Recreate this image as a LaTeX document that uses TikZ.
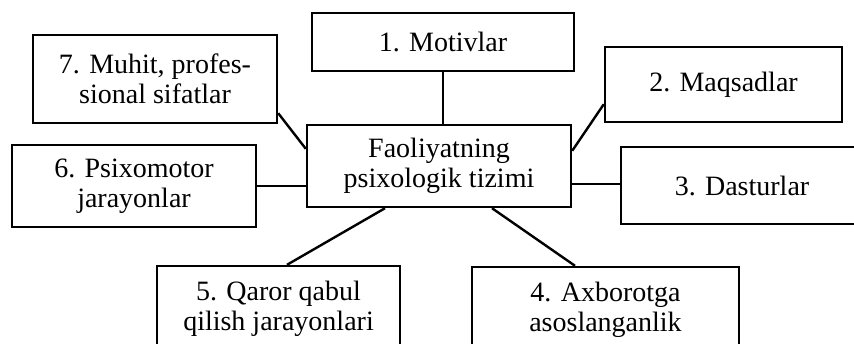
\documentclass[tikz,border=0pt]{standalone}
\usepackage{fontspec}
\setmainfont{Liberation Serif}
\usetikzlibrary{calc}

\begin{document}
\begin{tikzpicture}[x=0.5pt, y=-0.5pt,
    blk/.style={draw, line width=1.2pt, align=center, inner sep=0pt,
                font=\fontsize{14}{15}\selectfont},
    lnk/.style={line width=1.2pt}
]
\useasboundingbox (0,0) rectangle (854,343);
\clip (0,0) rectangle (854,343);
\node[blk, minimum width=132pt,   minimum height=41pt]   (fs) at (439,166)   {Faoliyatning\\psixologik tizimi};
\node[blk, minimum width=131pt,   minimum height=29pt]   (m1) at (443,42)    {1. Motivlar};
\node[blk, minimum width=118.5pt, minimum height=37.5pt] (m2) at (723.5,84.5) {2. Maqsadlar};
\node[blk, minimum width=121pt,   minimum height=38.5pt] (m3) at (742,185.5) {3. Dasturlar};
\node[blk, minimum width=133.5pt, minimum height=42.5pt] (m4) at (605.5,309.5) {4. Axborotga\\asoslanganlik};
\node[blk, minimum width=121.5pt, minimum height=43pt]   (m5) at (278.5,309) {5. Qaror qabul\\qilish jarayonlari};
\node[blk, minimum width=122pt,   minimum height=41pt]   (m6) at (134,186)   {6. Psixomotor\\jarayonlar};
\node[blk, minimum width=122pt,   minimum height=44pt]   (m7) at (155,79)    {7. Muhit, profes-\\sional sifatlar};
\draw[lnk] (m1.south) -- (m1.south |- fs.north);
\draw[lnk] ($(fs.north east)+(0,27)$) -- ($(m2.south west)+(0,-19)$);
\draw[lnk] ($(fs.south east)+(0,-24)$) coordinate (d3) -- (d3 -| m3.west);
\draw[lnk] ($(fs.south)+(53,0)$) -- ($(m4.north)+(-30.5,0)$);
\draw[lnk] ($(fs.south)+(-54,0)$) -- ($(m5.north)+(8.5,0)$);
\draw[lnk] (m6.east) -- (m6.east -| fs.west);
\draw[lnk] ($(m7.south east)+(0,-11)$) -- ($(fs.north west)+(0,25)$);
\end{tikzpicture}
\end{document}
